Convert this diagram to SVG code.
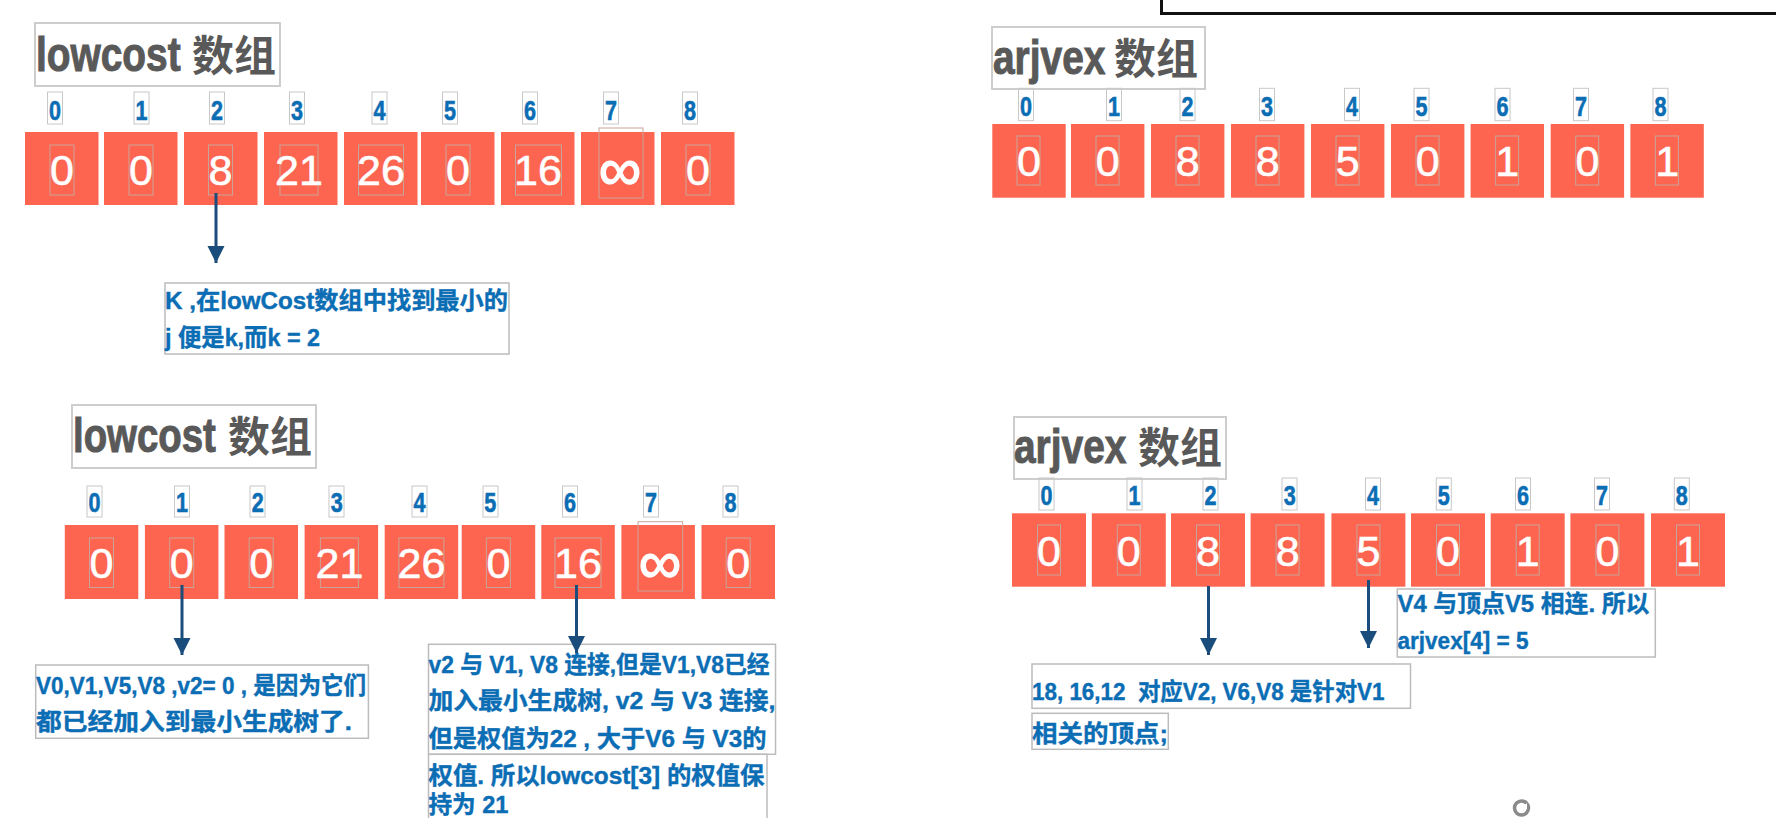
<svg xmlns="http://www.w3.org/2000/svg" width="1776" height="818" viewBox="0 0 1776 818">
<style>
.cell{fill:#fd6550}
.val{font-family:"Liberation Sans",Arial,sans-serif;font-size:43px;fill:#fff;text-anchor:middle;stroke:#fff;stroke-width:0.6}
.inf{font-family:"Liberation Sans",Arial,sans-serif;font-size:60px;fill:#fff;text-anchor:middle;stroke:#fff;stroke-width:1.4}
.vbox{fill:none;stroke:#c9a397;stroke-width:1}
.idx{font-family:"Liberation Sans",Arial,sans-serif;font-weight:bold;font-size:27px;fill:#0b6db4;stroke:#0b6db4;stroke-width:0.6;text-anchor:middle}
.ibox{fill:none;stroke:#c8c8c8;stroke-width:1}
.tbox{fill:#fff;stroke:#cdcdcd;stroke-width:2}
.ttl{font-family:"Liberation Sans",Arial,sans-serif;font-weight:bold;font-size:48px;fill:#595959;stroke:#595959;stroke-width:1}
.ttlc{font-family:"Noto Sans CJK SC",sans-serif;font-weight:bold;font-size:42px;fill:#595959}
.nbox{fill:#fff;stroke:#bcbcbc;stroke-width:1.5}
.note{font-family:"Liberation Sans","Noto Sans CJK SC",sans-serif;font-weight:bold;font-size:24px;fill:#0b6db4;stroke:#0b6db4;stroke-width:0.4}
.conn{stroke:#1a4c7c;stroke-width:3;fill:none}
</style>
<defs>
<marker id="ah" markerUnits="userSpaceOnUse" markerWidth="18" markerHeight="18" refX="17" refY="8.5" orient="auto">
<path d="M0,0 L17,8.5 L0,17 z" fill="#1a4c7c"/>
</marker>
</defs>
<rect width="1776" height="818" fill="#fff"/>

<rect x="1161.5" y="-10" width="700" height="23.5" fill="none" stroke="#111" stroke-width="3"/>

<!-- Section A: lowcost top -->
<g id="lowcost-title-1">
<rect class="tbox" x="35" y="23" width="245" height="63"/>
<text class="ttl" transform="translate(36 71) scale(0.81 1)">lowcost</text>
<text class="ttlc" x="192" y="71">数组</text>
</g>
<g id="lowcost-index-1">
<rect class="ibox" x="47.5" y="92" width="15" height="32"/><text class="idx" x="55" y="120" textLength="12" lengthAdjust="spacingAndGlyphs">0</text>
<rect class="ibox" x="134" y="92" width="15" height="32"/><text class="idx" x="141.5" y="120" textLength="12" lengthAdjust="spacingAndGlyphs">1</text>
<rect class="ibox" x="209.5" y="92" width="15" height="32"/><text class="idx" x="217" y="120" textLength="12" lengthAdjust="spacingAndGlyphs">2</text>
<rect class="ibox" x="289.5" y="92" width="15" height="32"/><text class="idx" x="297" y="120" textLength="12" lengthAdjust="spacingAndGlyphs">3</text>
<rect class="ibox" x="372" y="92" width="15" height="32"/><text class="idx" x="379.5" y="120" textLength="12" lengthAdjust="spacingAndGlyphs">4</text>
<rect class="ibox" x="442.5" y="92" width="15" height="32"/><text class="idx" x="450" y="120" textLength="12" lengthAdjust="spacingAndGlyphs">5</text>
<rect class="ibox" x="522.5" y="92" width="15" height="32"/><text class="idx" x="530" y="120" textLength="12" lengthAdjust="spacingAndGlyphs">6</text>
<rect class="ibox" x="603.5" y="92" width="15" height="32"/><text class="idx" x="611" y="120" textLength="12" lengthAdjust="spacingAndGlyphs">7</text>
<rect class="ibox" x="682.5" y="92" width="15" height="32"/><text class="idx" x="690" y="120" textLength="12" lengthAdjust="spacingAndGlyphs">8</text>
</g>
<g id="lowcost-cells-1">
<rect class="cell" x="25" y="132" width="73.5" height="73"/><rect class="vbox" x="50" y="145" width="24" height="50"/><text class="val" x="62" y="185">0</text>
<rect class="cell" x="104" y="132" width="73.5" height="73"/><rect class="vbox" x="129" y="145" width="24" height="50"/><text class="val" x="141" y="185">0</text>
<rect class="cell" x="184" y="132" width="73.5" height="73"/><rect class="vbox" x="208.5" y="145" width="24" height="50"/><text class="val" x="220.5" y="185">8</text>
<rect class="cell" x="264" y="132" width="73.5" height="73"/><rect class="vbox" x="280" y="145" width="38" height="50"/><text class="val" x="299" y="185">21</text>
<rect class="cell" x="344" y="132" width="73.5" height="73"/><rect class="vbox" x="358.5" y="145" width="45" height="50"/><text class="val" x="381" y="185">26</text>
<rect class="cell" x="421" y="132" width="73.5" height="73"/><rect class="vbox" x="446" y="145" width="24" height="50"/><text class="val" x="458" y="185">0</text>
<rect class="cell" x="501" y="132" width="73.5" height="73"/><rect class="vbox" x="515.5" y="145" width="46" height="50"/><text class="val" x="538" y="185">16</text>
<rect class="cell" x="581" y="132" width="73.5" height="73"/><rect class="vbox" x="599" y="128" width="44" height="70"/><text class="inf" x="620" y="190">∞</text>
<rect class="cell" x="661" y="132" width="73.5" height="73"/><rect class="vbox" x="686" y="145" width="24" height="50"/><text class="val" x="698" y="185">0</text>
</g>
<g id="note-k">
<rect class="nbox" x="165" y="283" width="344" height="71"/>
<text class="note" x="165" y="309" textLength="343" lengthAdjust="spacingAndGlyphs">K ,在lowCost数组中找到最小的</text>
<text class="note" x="165" y="346" textLength="155" lengthAdjust="spacingAndGlyphs">j 便是k,而k = 2</text>
</g>

<!-- Section B: lowcost bottom -->
<g id="lowcost-title-2">
<rect class="tbox" x="72" y="405" width="244" height="63"/>
<text class="ttl" transform="translate(73 452) scale(0.80 1)">lowcost</text>
<text class="ttlc" x="228" y="452">数组</text>
</g>
<g id="lowcost-index-2">
<rect class="ibox" x="87" y="486" width="15" height="31"/><text class="idx" x="94.4" y="512" textLength="12" lengthAdjust="spacingAndGlyphs">0</text>
<rect class="ibox" x="174.5" y="486" width="15" height="31"/><text class="idx" x="182" y="512" textLength="12" lengthAdjust="spacingAndGlyphs">1</text>
<rect class="ibox" x="250" y="486" width="15" height="31"/><text class="idx" x="257.7" y="512" textLength="12" lengthAdjust="spacingAndGlyphs">2</text>
<rect class="ibox" x="329" y="486" width="15" height="31"/><text class="idx" x="336.7" y="512" textLength="12" lengthAdjust="spacingAndGlyphs">3</text>
<rect class="ibox" x="412" y="486" width="15" height="31"/><text class="idx" x="419.4" y="512" textLength="12" lengthAdjust="spacingAndGlyphs">4</text>
<rect class="ibox" x="483" y="486" width="15" height="31"/><text class="idx" x="490.3" y="512" textLength="12" lengthAdjust="spacingAndGlyphs">5</text>
<rect class="ibox" x="562.5" y="486" width="15" height="31"/><text class="idx" x="570" y="512" textLength="12" lengthAdjust="spacingAndGlyphs">6</text>
<rect class="ibox" x="643.5" y="486" width="15" height="31"/><text class="idx" x="651" y="512" textLength="12" lengthAdjust="spacingAndGlyphs">7</text>
<rect class="ibox" x="723" y="486" width="15" height="31"/><text class="idx" x="730.6" y="512" textLength="12" lengthAdjust="spacingAndGlyphs">8</text>
</g>
<g id="lowcost-cells-2">
<rect class="cell" x="64.8" y="525" width="73.5" height="74"/><rect class="vbox" x="89.5" y="538" width="24" height="49.5"/><text class="val" x="101.5" y="578">0</text>
<rect class="cell" x="144.9" y="525" width="73.5" height="74"/><rect class="vbox" x="169.7" y="538" width="24" height="49.5"/><text class="val" x="181.7" y="578">0</text>
<rect class="cell" x="224.5" y="525" width="73.5" height="74"/><rect class="vbox" x="249.2" y="538" width="24" height="49.5"/><text class="val" x="261.2" y="578">0</text>
<rect class="cell" x="304.6" y="525" width="73.5" height="74"/><rect class="vbox" x="320.4" y="538" width="38" height="49.5"/><text class="val" x="339.4" y="578">21</text>
<rect class="cell" x="384.7" y="525" width="73.5" height="74"/><rect class="vbox" x="398.9" y="538" width="45" height="49.5"/><text class="val" x="421.4" y="578">26</text>
<rect class="cell" x="461.7" y="525" width="73.5" height="74"/><rect class="vbox" x="486.4" y="538" width="24" height="49.5"/><text class="val" x="498.4" y="578">0</text>
<rect class="cell" x="541.3" y="525" width="73.5" height="74"/><rect class="vbox" x="555" y="538" width="46" height="49.5"/><text class="val" x="578" y="578">16</text>
<rect class="cell" x="621.4" y="525" width="73.5" height="74"/><rect class="vbox" x="638" y="521.7" width="44.6" height="69.3"/><text class="inf" x="660" y="583">∞</text>
<rect class="cell" x="701.5" y="525" width="73.5" height="74"/><rect class="vbox" x="726.2" y="538" width="24" height="49.5"/><text class="val" x="738.2" y="578">0</text>
</g>
<g id="note-v0">
<rect class="nbox" x="35.7" y="665" width="332.7" height="73.3"/>
<text class="note" x="36" y="693.5" textLength="330" lengthAdjust="spacingAndGlyphs">V0,V1,V5,V8 ,v2= 0 , 是因为它们</text>
<text class="note" x="36" y="729.5" textLength="316" lengthAdjust="spacingAndGlyphs">都已经加入到最小生成树了.</text>
</g>
<g id="note-v2">
<rect class="nbox" x="428.5" y="644.3" width="347" height="110"/>
<rect class="nbox" x="428.5" y="754.3" width="338.5" height="80"/>
<text class="note" x="428.5" y="672.5" textLength="341" lengthAdjust="spacingAndGlyphs">v2 与 V1, V8 连接,但是V1,V8已经</text>
<text class="note" x="428.5" y="709" textLength="347" lengthAdjust="spacingAndGlyphs">加入最小生成树, v2 与 V3 连接,</text>
<text class="note" x="428.5" y="746.5" textLength="338" lengthAdjust="spacingAndGlyphs">但是权值为22 , 大于V6 与 V3的</text>
<text class="note" x="428.5" y="784" textLength="336" lengthAdjust="spacingAndGlyphs">权值. 所以lowcost[3] 的权值保</text>
<text class="note" x="428.5" y="813" textLength="80" lengthAdjust="spacingAndGlyphs">持为 21</text>
</g>

<!-- Section C: arjvex top -->
<g id="arjvex-title-1">
<rect class="tbox" x="992" y="27" width="213" height="62"/>
<text class="ttl" transform="translate(993 74) scale(0.81 1)">arjvex</text>
<text class="ttlc" x="1114" y="74">数组</text>
</g>
<g id="arjvex-index-1">
<rect class="ibox" x="1018.5" y="88.3" width="15" height="32.4"/><text class="idx" x="1026" y="116" textLength="12" lengthAdjust="spacingAndGlyphs">0</text>
<rect class="ibox" x="1106.5" y="88.3" width="15" height="32.4"/><text class="idx" x="1114" y="116" textLength="12" lengthAdjust="spacingAndGlyphs">1</text>
<rect class="ibox" x="1180" y="88.3" width="15" height="32.4"/><text class="idx" x="1187.4" y="116" textLength="12" lengthAdjust="spacingAndGlyphs">2</text>
<rect class="ibox" x="1259.5" y="88.3" width="15" height="32.4"/><text class="idx" x="1267" y="116" textLength="12" lengthAdjust="spacingAndGlyphs">3</text>
<rect class="ibox" x="1344.5" y="88.3" width="15" height="32.4"/><text class="idx" x="1352" y="116" textLength="12" lengthAdjust="spacingAndGlyphs">4</text>
<rect class="ibox" x="1414" y="88.3" width="15" height="32.4"/><text class="idx" x="1421.6" y="116" textLength="12" lengthAdjust="spacingAndGlyphs">5</text>
<rect class="ibox" x="1495" y="88.3" width="15" height="32.4"/><text class="idx" x="1502.6" y="116" textLength="12" lengthAdjust="spacingAndGlyphs">6</text>
<rect class="ibox" x="1573.5" y="88.3" width="15" height="32.4"/><text class="idx" x="1581" y="116" textLength="12" lengthAdjust="spacingAndGlyphs">7</text>
<rect class="ibox" x="1653" y="88.3" width="15" height="32.4"/><text class="idx" x="1660.5" y="116" textLength="12" lengthAdjust="spacingAndGlyphs">8</text>
</g>
<g id="arjvex-cells-1">
<rect class="cell" x="992.3" y="124" width="73.4" height="73.7"/><rect class="vbox" x="1017" y="136" width="23" height="49"/><text class="val" x="1029" y="176">0</text>
<rect class="cell" x="1071" y="124" width="73.4" height="73.7"/><rect class="vbox" x="1096" y="136" width="23" height="49"/><text class="val" x="1107.7" y="176">0</text>
<rect class="cell" x="1151" y="124" width="73.4" height="73.7"/><rect class="vbox" x="1176" y="136" width="23" height="49"/><text class="val" x="1187.7" y="176">8</text>
<rect class="cell" x="1231" y="124" width="73.4" height="73.7"/><rect class="vbox" x="1256" y="136" width="23" height="49"/><text class="val" x="1267.7" y="176">8</text>
<rect class="cell" x="1311" y="124" width="73.4" height="73.7"/><rect class="vbox" x="1336" y="136" width="23" height="49"/><text class="val" x="1347.7" y="176">5</text>
<rect class="cell" x="1391" y="124" width="73.4" height="73.7"/><rect class="vbox" x="1416" y="136" width="23" height="49"/><text class="val" x="1427.7" y="176">0</text>
<rect class="cell" x="1470.6" y="124" width="73.4" height="73.7"/><rect class="vbox" x="1495.6" y="136" width="23" height="49"/><text class="val" x="1507.3" y="176">1</text>
<rect class="cell" x="1550.7" y="124" width="73.4" height="73.7"/><rect class="vbox" x="1575.7" y="136" width="23" height="49"/><text class="val" x="1587.4" y="176">0</text>
<rect class="cell" x="1630.4" y="124" width="73.4" height="73.7"/><rect class="vbox" x="1655.4" y="136" width="23" height="49"/><text class="val" x="1667.1" y="176">1</text>
</g>

<!-- Section D: arjvex bottom -->
<g id="arjvex-title-2">
<rect class="tbox" x="1014" y="417" width="212" height="62"/>
<text class="ttl" transform="translate(1014 462.7) scale(0.81 1)">arjvex</text>
<text class="ttlc" x="1138" y="462.7">数组</text>
</g>
<g id="arjvex-index-2">
<rect class="ibox" x="1039" y="478" width="15" height="32"/><text class="idx" x="1046.5" y="505" textLength="12" lengthAdjust="spacingAndGlyphs">0</text>
<rect class="ibox" x="1127" y="478" width="15" height="32"/><text class="idx" x="1134.5" y="505" textLength="12" lengthAdjust="spacingAndGlyphs">1</text>
<rect class="ibox" x="1203" y="478" width="15" height="32"/><text class="idx" x="1210.5" y="505" textLength="12" lengthAdjust="spacingAndGlyphs">2</text>
<rect class="ibox" x="1282" y="478" width="15" height="32"/><text class="idx" x="1289.7" y="505" textLength="12" lengthAdjust="spacingAndGlyphs">3</text>
<rect class="ibox" x="1365.5" y="478" width="15" height="32"/><text class="idx" x="1373" y="505" textLength="12" lengthAdjust="spacingAndGlyphs">4</text>
<rect class="ibox" x="1436.3" y="478" width="15" height="32"/><text class="idx" x="1443.8" y="505" textLength="12" lengthAdjust="spacingAndGlyphs">5</text>
<rect class="ibox" x="1515.5" y="478" width="15" height="32"/><text class="idx" x="1523" y="505" textLength="12" lengthAdjust="spacingAndGlyphs">6</text>
<rect class="ibox" x="1594.5" y="478" width="15" height="32"/><text class="idx" x="1602" y="505" textLength="12" lengthAdjust="spacingAndGlyphs">7</text>
<rect class="ibox" x="1674.3" y="478" width="15" height="32"/><text class="idx" x="1681.8" y="505" textLength="12" lengthAdjust="spacingAndGlyphs">8</text>
</g>
<g id="arjvex-cells-2">
<rect class="cell" x="1012" y="513.3" width="74" height="73.4"/><rect class="vbox" x="1037.5" y="525" width="23" height="50"/><text class="val" x="1049" y="566">0</text>
<rect class="cell" x="1091.8" y="513.3" width="74" height="73.4"/><rect class="vbox" x="1117.3" y="525" width="23" height="50"/><text class="val" x="1128.8" y="566">0</text>
<rect class="cell" x="1171" y="513.3" width="74" height="73.4"/><rect class="vbox" x="1196.5" y="525" width="23" height="50"/><text class="val" x="1208" y="566">8</text>
<rect class="cell" x="1250.6" y="513.3" width="74" height="73.4"/><rect class="vbox" x="1276.1" y="525" width="23" height="50"/><text class="val" x="1287.6" y="566">8</text>
<rect class="cell" x="1331.4" y="513.3" width="74" height="73.4"/><rect class="vbox" x="1356.9" y="525" width="23" height="50"/><text class="val" x="1368.4" y="566">5</text>
<rect class="cell" x="1411" y="513.3" width="74" height="73.4"/><rect class="vbox" x="1436.5" y="525" width="23" height="50"/><text class="val" x="1448" y="566">0</text>
<rect class="cell" x="1490.7" y="513.3" width="74" height="73.4"/><rect class="vbox" x="1516.2" y="525" width="23" height="50"/><text class="val" x="1527.7" y="566">1</text>
<rect class="cell" x="1570.4" y="513.3" width="74" height="73.4"/><rect class="vbox" x="1595.9" y="525" width="23" height="50"/><text class="val" x="1607.4" y="566">0</text>
<rect class="cell" x="1651" y="513.3" width="74" height="73.4"/><rect class="vbox" x="1676.5" y="525" width="23" height="50"/><text class="val" x="1688" y="566">1</text>
</g>
<g id="note-v4">
<rect class="nbox" x="1397.3" y="589" width="258" height="68"/>
<text class="note" x="1397.5" y="612" textLength="252" lengthAdjust="spacingAndGlyphs">V4 与顶点V5 相连. 所以</text>
<text class="note" x="1397.5" y="648.5" textLength="131" lengthAdjust="spacingAndGlyphs">arjvex[4] = 5</text>
</g>
<g id="note-18">
<rect class="nbox" x="1032" y="664" width="378.5" height="44.3"/>
<text class="note" x="1032" y="700" textLength="352.5" lengthAdjust="spacingAndGlyphs">18, 16,12 &#160;对应V2, V6,V8 是针对V1</text>
<rect class="nbox" x="1032" y="713.3" width="136.3" height="36"/>
<text class="note" x="1032" y="741.7" textLength="136" lengthAdjust="spacingAndGlyphs">相关的顶点;</text>
</g>

<g id="connectors">
<line class="conn" x1="216" y1="193" x2="216" y2="263" marker-end="url(#ah)"/>
<line class="conn" x1="182" y1="585" x2="182" y2="655" marker-end="url(#ah)"/>
<line class="conn" x1="576.5" y1="585" x2="576.5" y2="653" marker-end="url(#ah)"/>
<line class="conn" x1="1208.5" y1="586" x2="1208.5" y2="655" marker-end="url(#ah)"/>
<line class="conn" x1="1368.5" y1="580" x2="1368.5" y2="648" marker-end="url(#ah)"/>
</g>

<g id="icon">
<circle cx="1521.5" cy="808" r="7" fill="none" stroke="#8a8a8a" stroke-width="3.5"/>
<path d="M1521.5,808 L1527,803 L1527,809 z" fill="#fff"/>
</g>
</svg>
